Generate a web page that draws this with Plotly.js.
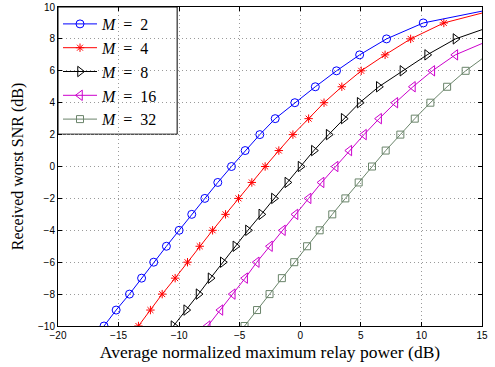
<!DOCTYPE html>
<html>
<head>
<meta charset="utf-8">
<script src="https://cdn.plot.ly/plotly-3.0.1.min.js"></script>
<style>html,body{margin:0;padding:0;background:#fff;}#chart{width:495px;height:367px;}</style>
</head>
<body>
<div id="chart"></div>
<script>
// Series names
const seriesNames = ["<i>M</i>&nbsp;&nbsp;=&nbsp;&nbsp;2", "<i>M</i>&nbsp;&nbsp;=&nbsp;&nbsp;4", "<i>M</i>&nbsp;&nbsp;=&nbsp;&nbsp;8", "<i>M</i>&nbsp;&nbsp;=&nbsp;&nbsp;16", "<i>M</i>&nbsp;&nbsp;=&nbsp;&nbsp;32"];
// Received worst SNR (dB) at each marker
const snrM2  = [-10,-9,-8,-7,-6,-5,-4,-3,-2,-1,0,1,2,3,4,5,6,7,8,9];
const snrM4  = [-10,-9,-8,-7,-6,-5,-4,-3,-2,-1,0,1,2,3,4,5,6,7,8,9];
const snrM8  = [-10,-9,-8,-7,-6,-5,-4,-3,-2,-1,0,1,2,3,4,5,6,7,8];
const snrM16 = [-10,-9,-8,-7,-6,-5,-4,-3,-2,-1,0,1,2,3,4,5,6,7];
const snrM32 = [-10,-9,-8,-7,-6,-5,-4,-3,-2,-1,0,1,2,3,4,5,6];
// Average normalized maximum relay power (dB) at each marker
const powM2  = [-16.2,-15.2,-14.1,-13.1,-12.1,-11.05,-10.0,-8.96,-7.88,-6.81,-5.68,-4.55,-3.34,-2.07,-0.45,1.24,2.99,4.9,7.12,10.15];
const powM4  = [-13.36,-12.37,-11.4,-10.33,-9.31,-8.3,-7.24,-6.17,-5.1,-4.0,-2.9,-1.77,-0.61,0.69,1.96,3.43,5.03,7.0,9.11,11.85];
const powM8  = [-10.47,-9.42,-8.4,-7.41,-6.4,-5.36,-4.32,-3.22,-2.18,-1.07,0.02,1.12,2.34,3.58,4.9,6.48,8.43,10.47,12.81];
const powM16 = [-7.64,-6.59,-5.57,-4.55,-3.59,-2.5,-1.43,-0.39,0.69,1.76,2.92,4.05,5.26,6.51,7.85,9.3,10.9,12.8];
const powM32 = [-4.6,-3.57,-2.54,-1.52,-0.5,0.56,1.6,2.64,3.72,4.82,5.92,7.05,8.26,9.45,10.74,12.12,13.65];
// Curve value at the right edge (power = 15 dB), drawn without marker
const endPower = 15;
const endSnr = [9.74, 9.62, 8.58, 7.71, 6.75];

const allPow = [powM2, powM4, powM8, powM16, powM32];
const allSnr = [snrM2, snrM4, snrM8, snrM16, snrM32];
const colors = ["#0000ff", "#ff0000", "#000000", "#cc00cc", "#6a846a"];
const symbols = ["circle-open", "asterisk-open", "triangle-right-open", "triangle-left-open", "square-open"];
const sizes = [8, 7, 9, 9, 7];

const traces = [];
for (let i = 0; i < 5; i++) {
  const xs = allPow[i], ys = allSnr[i];
  traces.push({
    x: xs, y: ys, type: "scatter", mode: "lines+markers",
    name: seriesNames[i],
    line: {color: colors[i], width: 1},
    marker: {symbol: symbols[i], size: sizes[i], color: colors[i], line: {color: colors[i], width: 1}}
  });
}
for (let i = 0; i < 5; i++) {
  const xs = allPow[i], ys = allSnr[i];
  traces.push({
    x: [xs[xs.length - 1], endPower], y: [ys[ys.length - 1], endSnr[i]],
    type: "scatter", mode: "lines", showlegend: false,
    line: {color: colors[i], width: 1}, hoverinfo: "skip"
  });
}

const axisCommon = {
  showline: true, linecolor: "#000", linewidth: 1, mirror: "ticks",
  ticks: "inside", ticklen: 4, tickcolor: "#000",
  showgrid: true, gridcolor: "#9a9a9a", griddash: "1px,3px", gridwidth: 1,
  zeroline: false,
  tickfont: {family: "Liberation Sans, Arial, sans-serif", size: 10, color: "#000"}
};

const layout = {
  width: 495, height: 367,
  margin: {l: 58, r: 13, t: 7, b: 41},
  paper_bgcolor: "#fff", plot_bgcolor: "#fff",
  xaxis: Object.assign({}, axisCommon, {
    range: [-20, 15], tickmode: "array", tickvals: [-20,-15,-10,-5,0,5,10,15],
    title: {text: "Average normalized maximum relay power (dB)", font: {family: "Liberation Serif, Times New Roman, serif", size: 17.5, color: "#000"}, standoff: 5}
  }),
  yaxis: Object.assign({}, axisCommon, {
    range: [-10, 10], tickmode: "array", tickvals: [-10,-8,-6,-4,-2,0,2,4,6,8,10],
    title: {text: "Received worst SNR (dB)", font: {family: "Liberation Serif, Times New Roman, serif", size: 16, color: "#000"}, standoff: 10}
  }),
  shapes: [{
    type: "rect", xref: "paper", yref: "paper", layer: "below",
    x0: 0, x1: 0.281, y0: 0.6013, y1: 1,
    fillcolor: "#fff", line: {color: "#000", width: 1}
  }],
  legend: {
    x: 0, y: 1, xanchor: "left", yanchor: "top",
    bgcolor: "rgba(0,0,0,0)", borderwidth: 0,
    font: {family: "Liberation Serif, Times New Roman, serif", size: 16, color: "#000"},
    traceorder: "normal", itemwidth: 34
  },
  showlegend: true
};

Plotly.newPlot("chart", traces, layout, {staticPlot: true, displayModeBar: false});
</script>
</body>
</html>
